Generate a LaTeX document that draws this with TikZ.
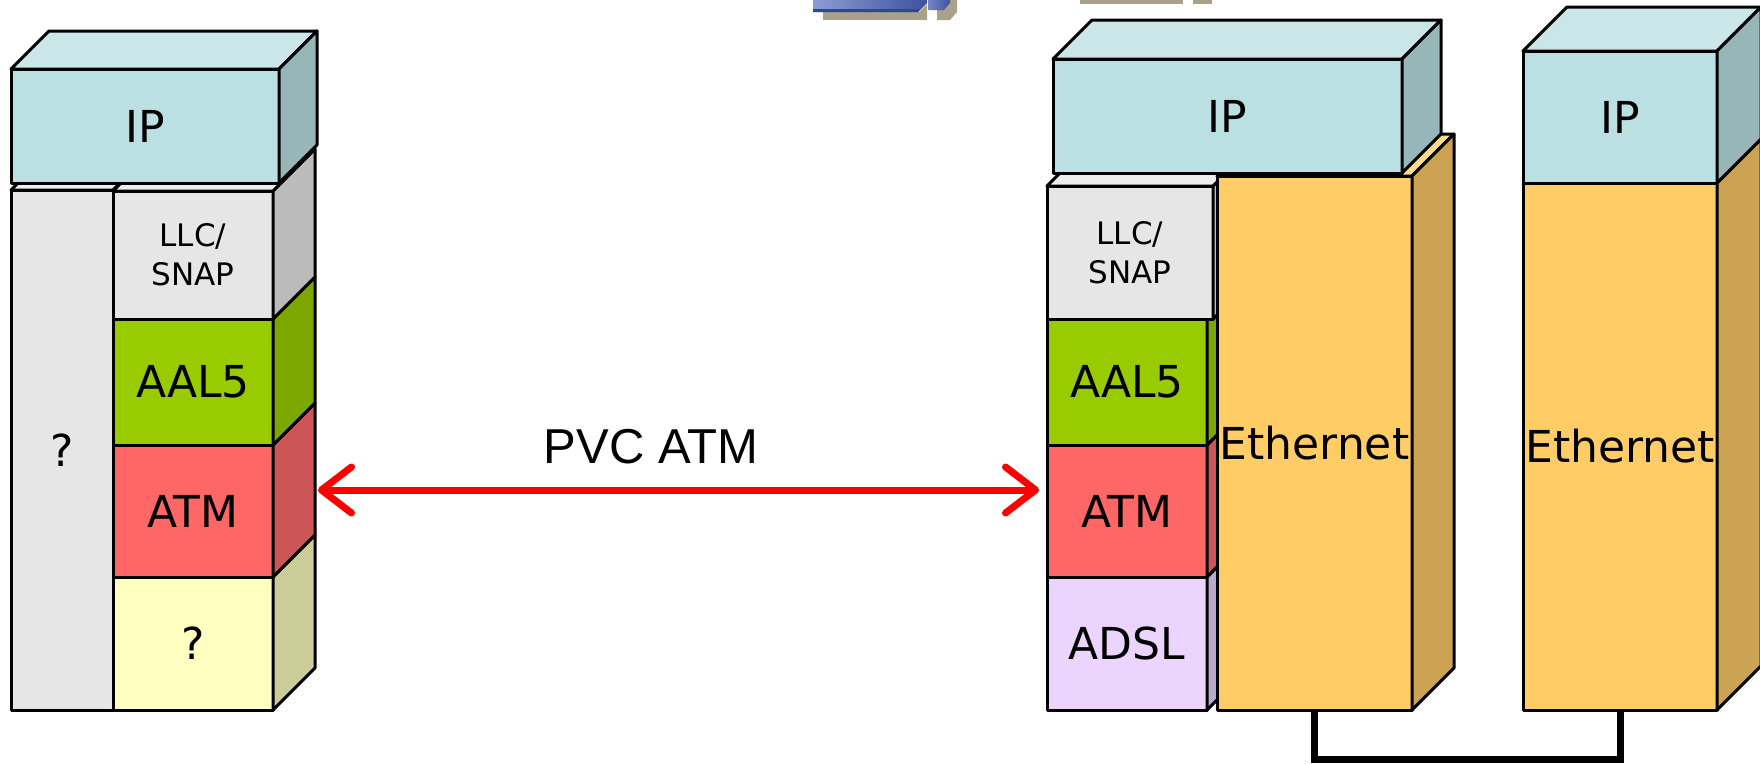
\documentclass[tikz,border=0pt]{standalone}
\usepackage{fontspec}
\setmainfont{DejaVu Sans}
\newfontfamily\arialfont{Liberation Sans}
\usetikzlibrary{arrows.meta,calc}

\definecolor{ipfront}{HTML}{BBE0E3}
\definecolor{iptop}{HTML}{CAE6E8}
\definecolor{ipside}{HTML}{97B6B8}
\definecolor{grayfront}{HTML}{E6E6E6}
\definecolor{graytop}{HTML}{EEEEEE}
\definecolor{grayside}{HTML}{BBBBBB}
\definecolor{aalfront}{HTML}{99CC00}
\definecolor{aalside}{HTML}{7CA600}
\definecolor{atmfront}{HTML}{FF6666}
\definecolor{atmside}{HTML}{CC5555}
\definecolor{yelfront}{HTML}{FFFFC2}
\definecolor{yelside}{HTML}{CCCC99}
\definecolor{adslfront}{HTML}{EBD5FF}
\definecolor{adslside}{HTML}{BBAACC}
\definecolor{ethfront}{HTML}{FFCC66}
\definecolor{ethside}{HTML}{CCA352}
\definecolor{ethtop}{HTML}{FFD98C}
\definecolor{iconblueA}{HTML}{8C9CD2}
\definecolor{iconblueB}{HTML}{3F52A2}
\definecolor{icontan}{HTML}{A9A189}

\tikzset{
  face/.style={draw=black, line width=3pt, line join=round},
  layer/.style={face, inner sep=0pt, outer sep=0pt, font=\fontsize{44}{48}\selectfont},
  smalllayer/.style={layer, font=\fontsize{31}{39}\selectfont, align=center},
  link/.style={draw=black, line width=7pt, line join=miter},
  pvc/.style={draw=red, line width=7pt,
    {Straight Barb[length=30pt,width=46pt,round]}-{Straight Barb[length=30pt,width=46pt,round]}},
  pvclabel/.style={font=\arialfont\fontsize{49}{52}\selectfont, inner sep=0pt}
}

% side face: node, depth, colour
\newcommand{\sideface}[3]{%
  \filldraw[face, fill=#3] (#1.north east) -- ++(#2,-#2) -- ([shift={(#2,-#2)}]#1.south east) -- (#1.south east) -- cycle;}
% top face: node, depth, colour
\newcommand{\topface}[3]{%
  \filldraw[face, fill=#3] (#1.north west) -- ++(#2,-#2) -- ([shift={(#2,-#2)}]#1.north east) -- (#1.north east) -- cycle;}

\begin{document}
\begin{tikzpicture}[x=1pt, y=-1pt]
\useasboundingbox (0,0) rectangle (1760,763);
\clip (0,0) rectangle (1760,763);

% ---- clipped icons at the top ----
\fill[icontan] (823,12) rectangle (925,20);
\fill[icontan] (919,12) -- (927,4) -- (927,20) -- (919,20) -- cycle;
\fill[icontan] (937,0) -- (957,0) -- (957,12) -- (950,20) -- (937,20) -- cycle;
\shade[left color=iconblueA, right color=iconblueB] (813,0) -- (927,0) -- (927,3) -- (918,12) -- (813,12) -- cycle;
\fill[iconblueB!85!black] (813,9) -- (920,9) -- (918,12) -- (813,12) -- cycle;
\shade[left color=iconblueA!70!iconblueB, right color=iconblueB] (928,0) -- (950,0) -- (950,3) -- (944,10) -- (928,10) -- cycle;
\fill[icontan] (1080,0) rectangle (1183,4);
\fill[icontan] (1193,0) rectangle (1212,4);

% ---- left stack ----
\node[layer, fill=grayfront, minimum width=102pt, minimum height=520pt] (colL) at (62,450) {?};
\topface{colL}{40}{graytop}

\node[layer, fill=yelfront, minimum width=160pt, minimum height=133pt] (phyL) at (193,643.5) {?};
\sideface{phyL}{42}{yelside}
\node[layer, fill=atmfront, minimum width=160pt, minimum height=132pt] (atmL) at (193,511) {ATM};
\sideface{atmL}{42}{atmside}
\node[layer, fill=aalfront, minimum width=160pt, minimum height=126pt] (aalL) at (193,382) {AAL5};
\sideface{aalL}{42}{aalside}
\node[smalllayer, fill=grayfront, minimum width=160pt, minimum height=128pt] (llcL) at (193,255) {LLC/\\SNAP};
\sideface{llcL}{42}{grayside}
\topface{llcL}{42}{graytop}

\node[layer, fill=ipfront, minimum width=268pt, minimum height=114pt] (ipL) at (145,126) {IP};
\topface{ipL}{38}{iptop}
\sideface{ipL}{38}{ipside}

% ---- middle stack ----
\node[layer, fill=adslfront, minimum width=160pt, minimum height=133pt] (adslR) at (1127,643.5) {ADSL};
\sideface{adslR}{42}{adslside}
\node[layer, fill=atmfront, minimum width=160pt, minimum height=132pt] (atmR) at (1127,511) {ATM};
\sideface{atmR}{42}{atmside}
\node[layer, fill=aalfront, minimum width=160pt, minimum height=126pt] (aalR) at (1127,382) {AAL5};
\sideface{aalR}{42}{aalside}
\node[smalllayer, fill=grayfront, minimum width=166pt, minimum height=133pt] (llcR) at (1130,252.5) {LLC/\\SNAP};
\sideface{llcR}{42}{grayside}
\topface{llcR}{42}{graytop}

\node[layer, fill=ethfront, minimum width=195pt, minimum height=534pt] (ethR) at (1314.5,443) {Ethernet};
\topface{ethR}{42}{ethtop}
\sideface{ethR}{42}{ethside}

\node[layer, fill=ipfront, minimum width=349pt, minimum height=114pt] (ipR) at (1227.5,116) {IP};
\topface{ipR}{39}{iptop}
\sideface{ipR}{39}{ipside}

% ---- right stack ----
\node[layer, fill=ethfront, minimum width=194pt, minimum height=527pt] (ethF) at (1620,446.5) {Ethernet};
\sideface{ethF}{44}{ethside}
\node[layer, fill=ipfront, minimum width=194pt, minimum height=132pt] (ipF) at (1620,117) {IP};
\topface{ipF}{44}{iptop}
\sideface{ipF}{44}{ipside}

% ---- Ethernet link ----
\draw[link] (ethR.south) -- ++(0,49) -| (ethF.south);

% ---- PVC ATM ----
\coordinate (arrL) at ($(atmL.east)+(45,-21)$);
\coordinate (arrR) at ($(atmR.west)+(-8,-21)$);
\draw[pvc] (arrL) -- (arrR);
\node[pvclabel] (pvcT) at (651,447) {PVC ATM};
\end{tikzpicture}
\end{document}
